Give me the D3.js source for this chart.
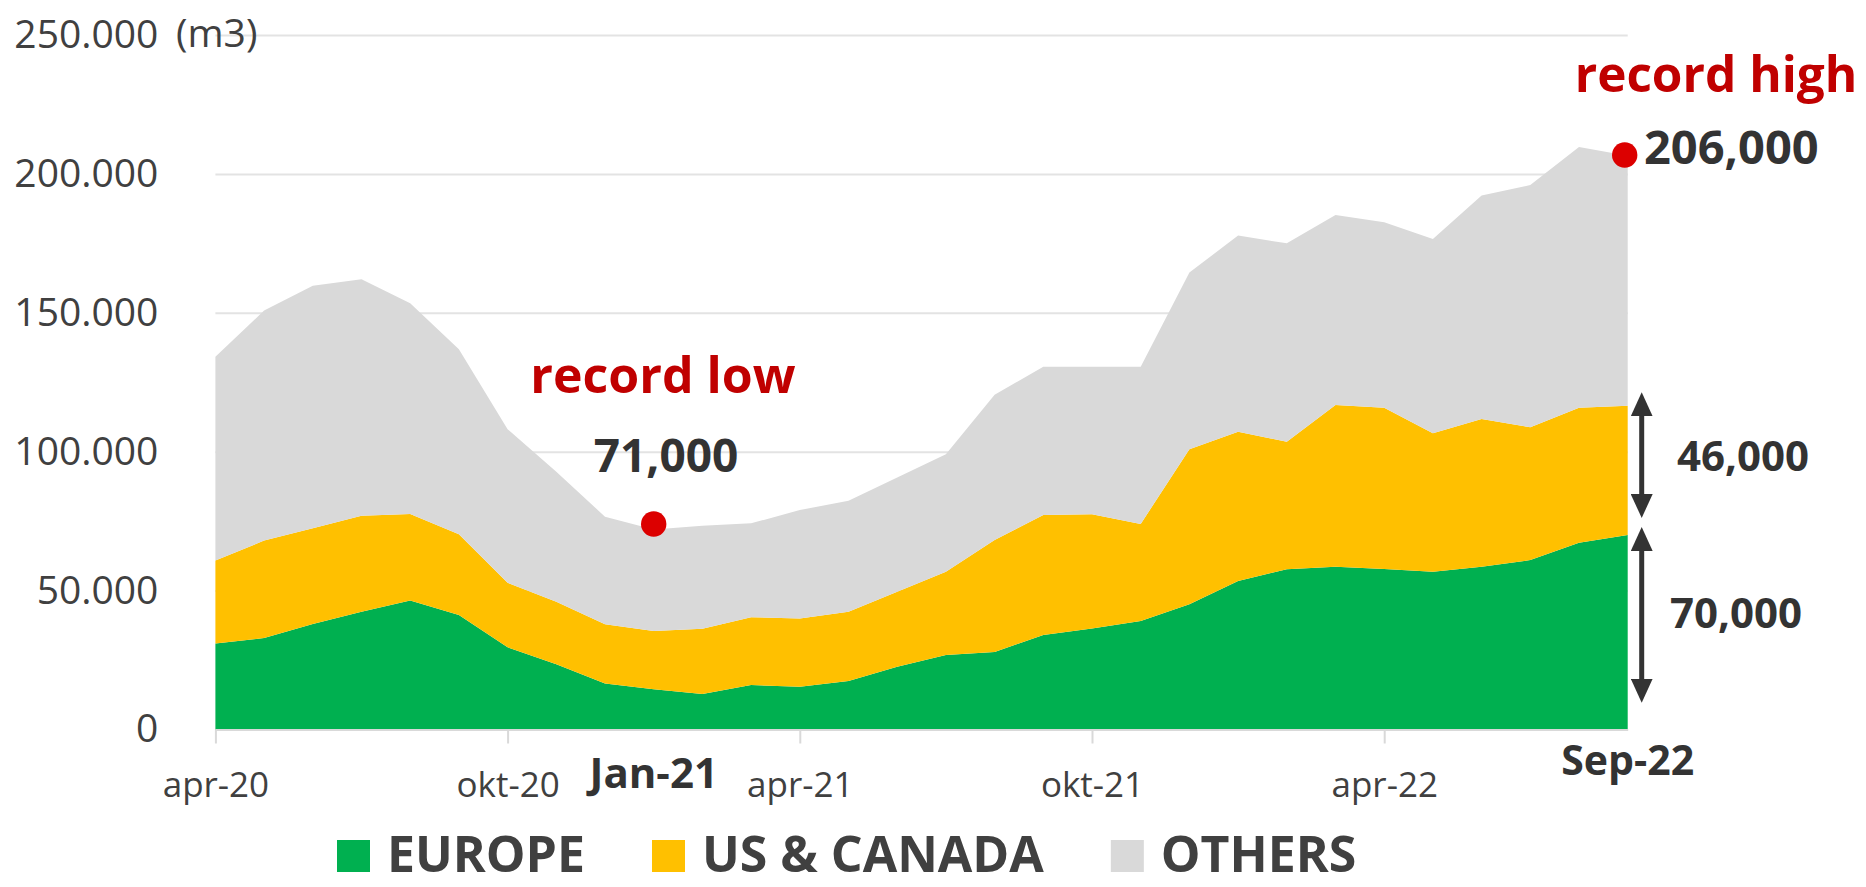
<!DOCTYPE html>
<html>
<head>
<meta charset="utf-8">
<script src="https://cdn.jsdelivr.net/npm/d3@7"></script>
<style>
  body { margin: 0; background: #fff; }
  svg text { font-family: "Open Sans", "Noto Sans", sans-serif; }
</style>
</head>
<body>
<svg width="1866" height="887"></svg>
<script>
// months apr-20 .. sep-22
const months = ["apr-20","mei-20","jun-20","jul-20","aug-20","sep-20","okt-20","nov-20","dec-20",
  "jan-21","feb-21","mrt-21","apr-21","mei-21","jun-21","jul-21","aug-21","sep-21","okt-21","nov-21","dec-21",
  "jan-22","feb-22","mrt-22","apr-22","mei-22","jun-22","jul-22","aug-22","sep-22"];

const europe = [31000,32900,38000,42400,46400,41200,29600,23500,16600,14500,12800,16000,15400,17500,22600,
  26800,27900,34000,36400,39100,45100,53500,57700,58600,57800,56800,58600,61000,67200,70000];
const usCanada = [29800,35100,34400,34500,31200,29100,23200,22500,21300,21000,23500,24400,24600,24900,27000,
  30000,40300,43200,41100,34900,55800,53700,45900,58200,58000,49800,53200,47800,48600,46500];
const others = [73400,82800,87300,85200,75800,66600,55300,46800,38700,36500,37000,33800,39000,39900,41100,
  42300,52300,53400,53100,56600,63600,70600,71400,68400,66800,70000,80400,87200,93900,90000];

const tickMonths = ["apr-20","okt-20","apr-21","okt-21","apr-22"];
const yTicks = [0, 50000, 100000, 150000, 200000, 250000];

const seriesKeys = ["europe","us","others"];
const seriesNames = ["EUROPE","US & CANADA","OTHERS"];
const seriesColors = ["#00b050","#ffc000","#d9d9d9"];

// annotations
const lowPoint = {month: "jan-21", value: 74000};
const highPoint = {month: "sep-22", value: 206800};
const arrows = [{from: 121000, to: 76500}, {from: 72500, to: 10000}];

const svg = d3.select("svg");
const links = 215.4, rechts = 1627.7, boven = 35, onder = 729.5;

const tabel = months.map((m, i) => ({month: m, europe: europe[i], us: usCanada[i], others: others[i]}));

const x = d3.scalePoint().domain(months).range([links, rechts]);
const y = d3.scaleLinear().domain([0, 250000]).range([onder, boven]);

const nl = d3.formatLocale({decimal: ",", thousands: ".", grouping: [3], currency: ["€", ""]});

// gridlines + y labels
const yAxis = svg.append("g")
  .attr("transform", `translate(${links},0)`)
  .call(d3.axisLeft(y).tickValues(yTicks).tickFormat(nl.format(",")).tickSize(-(rechts - links)).tickPadding(57));
yAxis.select(".domain").remove();
yAxis.selectAll(".tick line").attr("stroke", "#e3e3e3").attr("stroke-width", 2);
yAxis.selectAll(".tick text").attr("font-size", 39).attr("fill", "#404040");

svg.append("text")
  .attr("x", 176).attr("y", 47)
  .attr("font-size", 39).attr("fill", "#404040")
  .text("(m3)");

// stacked areas
const stapel = d3.stack().keys(seriesKeys)(tabel);
const area = d3.area()
  .x(d => x(d.data.month))
  .y0(d => y(d[0]))
  .y1(d => y(d[1]));

svg.append("g").selectAll("path")
  .data(stapel)
  .join("path")
    .attr("fill", (d, i) => seriesColors[i])
    .attr("d", area);

// x axis
const xAxis = svg.append("g")
  .attr("transform", `translate(0,${onder})`)
  .call(d3.axisBottom(x).tickValues(tickMonths).tickSize(14).tickPadding(29).tickSizeOuter(0));
xAxis.select(".domain").attr("stroke", "#d9d9d9").attr("stroke-width", 2);
xAxis.selectAll(".tick line").attr("stroke", "#d9d9d9").attr("stroke-width", 2);
xAxis.selectAll(".tick text").attr("font-size", 35).attr("fill", "#404040");

// bold highlighted months
svg.append("text")
  .attr("x", x("jan-21")).attr("y", 788)
  .attr("text-anchor", "middle").attr("font-size", 42).attr("font-weight", "bold").attr("fill", "#333")
  .text("Jan-21");
svg.append("text")
  .attr("x", x("sep-22")).attr("y", 775)
  .attr("text-anchor", "middle").attr("font-size", 41).attr("font-weight", "bold").attr("fill", "#333")
  .text("Sep-22");

// record markers
[lowPoint, highPoint].forEach(p => {
  svg.append("circle")
    .attr("cx", x(p.month) + (p === highPoint ? -3 : 0))
    .attr("cy", y(p.value))
    .attr("r", 12.7)
    .attr("fill", "#dc0000");
});

svg.append("text")
  .attr("x", 663).attr("y", 393)
  .attr("text-anchor", "middle").attr("font-size", 50).attr("font-weight", "bold").attr("fill", "#c00000")
  .text("record low");
svg.append("text")
  .attr("x", 666).attr("y", 472)
  .attr("text-anchor", "middle").attr("font-size", 46).attr("font-weight", "bold").attr("fill", "#333")
  .text("71,000");

svg.append("text")
  .attr("x", 1716).attr("y", 92)
  .attr("text-anchor", "middle").attr("font-size", 49.5).attr("font-weight", "bold").attr("fill", "#c00000")
  .text("record high");
svg.append("text")
  .attr("x", 1644).attr("y", 164)
  .attr("font-size", 47).attr("font-weight", "bold").attr("fill", "#333")
  .text("206,000");

// double arrows
const defs = svg.append("defs");
defs.append("marker")
  .attr("id", "pijl")
  .attr("viewBox", "0 0 24 22")
  .attr("refX", 12).attr("refY", 11)
  .attr("markerWidth", 24).attr("markerHeight", 22)
  .attr("markerUnits", "userSpaceOnUse")
  .attr("orient", "auto-start-reverse")
  .append("path")
    .attr("d", "M0,0 L24,11 L0,22 Z")
    .attr("fill", "#333");

const arrowX = x("sep-22") + 14;
svg.append("g").selectAll("line")
  .data(arrows)
  .join("line")
    .attr("x1", arrowX).attr("x2", arrowX)
    .attr("y1", d => y(d.from) + 11).attr("y2", d => y(d.to) - 11)
    .attr("stroke", "#333").attr("stroke-width", 5)
    .attr("marker-start", "url(#pijl)")
    .attr("marker-end", "url(#pijl)");

svg.append("text")
  .attr("x", 1743).attr("y", 471)
  .attr("text-anchor", "middle").attr("font-size", 42).attr("font-weight", "bold").attr("fill", "#333")
  .text("46,000");
svg.append("text")
  .attr("x", 1736).attr("y", 628)
  .attr("text-anchor", "middle").attr("font-size", 42).attr("font-weight", "bold").attr("fill", "#333")
  .text("70,000");

// legend
const legenda = svg.append("g");
let lx = 337;
seriesNames.forEach((naam, i) => {
  legenda.append("rect")
    .attr("x", lx).attr("y", 840)
    .attr("width", 33).attr("height", 32)
    .attr("fill", seriesColors[i]);
  const t = legenda.append("text")
    .attr("x", lx + 50).attr("y", 872)
    .attr("font-size", 50).attr("font-weight", "bold").attr("fill", "#404040")
    .text(naam);
  lx += 50 + t.node().getComputedTextLength() + 67;
});
</script>
</body>
</html>
